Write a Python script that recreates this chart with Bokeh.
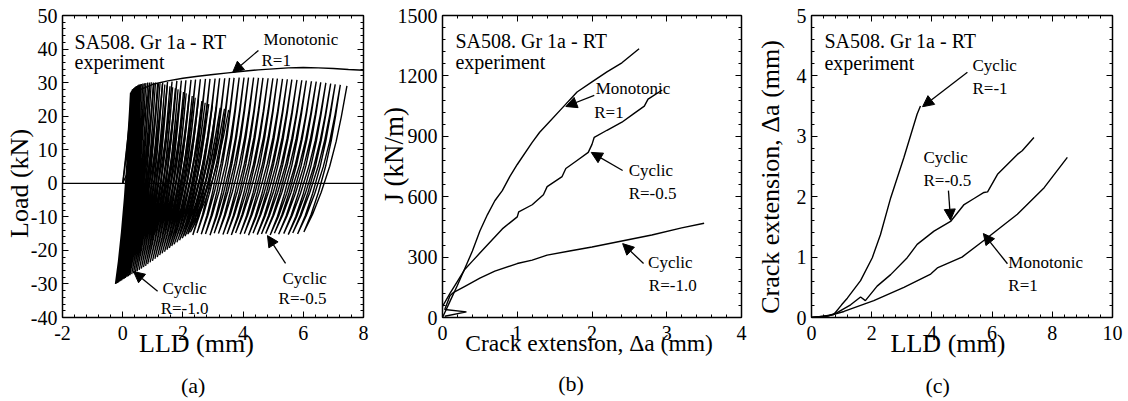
from bokeh.plotting import figure
from bokeh.layouts import row
from bokeh.models import (Range1d, LinearAxis, SingleIntervalTicker, FixedTicker, Label, Arrow,
                          NormalHead, Span, CustomJSTickFormatter)
from bokeh.embed import file_html
from bokeh.resources import INLINE

FONT = "Liberation Serif"

# ---------------- data : panel (a) Load vs LLD ----------------
mono_a_lld = [0.0, 0.15, 0.30, 0.40, 0.60, 1.0, 1.5, 2.0, 2.5, 3.0, 3.5, 4.0, 4.5, 5.0, 5.5, 6.0, 6.5, 7.0, 7.5, 8.0]
mono_a_load = [0.0, 12.0, 24.0, 26.5, 28.0, 29.5, 30.5, 31.3, 31.9, 32.4, 32.9, 33.4, 33.8, 34.1, 34.4, 34.5, 34.4, 34.2, 33.9, 33.7]

# cyclic R=-0.5 : turning points (max load / min load of every cycle)
r05_top_lld = [0.90, 1.04, 1.19, 1.33, 1.49, 1.64, 1.80, 1.95, 2.10, 2.27, 2.42, 2.58, 2.75, 2.90,
               3.07, 3.22, 3.39, 3.55, 3.70, 3.87, 4.03, 4.18, 4.35, 4.51, 4.66, 4.83, 4.99, 5.14,
               5.31, 5.47, 5.62, 5.79, 5.95, 6.10, 6.27, 6.43, 6.58, 6.75, 6.91, 7.06, 7.23, 7.45]
r05_top_load = [29.3, 29.6, 29.8, 30.0, 30.2, 30.3, 30.5, 30.6, 30.7, 30.8, 30.9, 31.0, 31.1, 31.1,
                31.2, 31.3, 31.3, 31.4, 31.4, 31.5, 31.5, 31.5, 31.5, 31.4, 31.4, 31.3, 31.3, 31.2,
                31.1, 31.0, 30.9, 30.8, 30.7, 30.6, 30.4, 30.3, 30.1, 29.9, 29.7, 29.5, 29.3, 29.0]
r05_bot_lld = [0.25, 0.38, 0.50, 0.63, 0.77, 0.91, 1.05, 1.18, 1.33, 1.47, 1.60, 1.75, 1.90, 2.04,
               2.18, 2.33, 2.47, 2.61, 2.75, 2.90, 3.04, 3.18, 3.33, 3.47, 3.61, 3.75, 3.90, 4.04,
               4.18, 4.33, 4.47, 4.61, 4.75, 4.90, 5.04, 5.18, 5.35, 5.50, 5.65, 5.81, 6.02]
r05_bot_load = [-14.8, -15.2, -15.0, -15.4, -14.9, -15.1, -15.3, -14.8, -15.2, -15.0, -15.5, -14.9,
                -15.1, -15.3, -15.0, -15.4, -14.8, -15.2, -15.1, -15.5, -14.9, -15.0, -15.3, -15.1,
                -15.4, -14.8, -15.2, -15.0, -15.5, -14.9, -15.3, -15.1, -15.0, -15.4, -14.9, -15.2,
                -15.0, -15.3, -14.8, -15.1, -14.5]

# cyclic R=-1.0 : turning points
r1_top_lld = [0.26, 0.28, 0.30, 0.32, 0.34, 0.37, 0.40, 0.43, 0.46, 0.50, 0.54, 0.58, 0.62, 0.67,
              0.72, 0.77, 0.83, 0.89, 0.95, 1.02, 1.09, 1.16, 1.24, 1.32, 1.40, 1.48, 1.57, 1.66,
              1.75, 1.84, 1.93, 2.02, 2.11, 2.21, 2.31, 2.41, 2.52, 2.63, 2.74, 2.86, 2.98, 3.11,
              3.24, 3.38, 3.52]
r1_top_load = [27.0, 27.3, 27.6, 27.9, 28.1, 28.4, 28.6, 28.8, 29.0, 29.2, 29.4, 29.5, 29.6, 29.7,
               29.8, 29.9, 30.0, 30.0, 30.1, 30.0, 30.0, 29.9, 29.8, 29.6, 29.4, 29.2, 28.9, 28.6,
               28.3, 28.0, 27.6, 27.2, 26.8, 26.4, 26.0, 25.5, 25.0, 24.5, 24.0, 23.6, 23.2, 22.8,
               22.5, 22.2, 21.9]
r1_bot_lld = [-0.24, -0.23, -0.22, -0.21, -0.20, -0.18, -0.16, -0.14, -0.12, -0.09, -0.06, -0.03,
              0.01, 0.05, 0.09, 0.14, 0.19, 0.24, 0.30, 0.36, 0.42, 0.48, 0.55, 0.62, 0.69, 0.76,
              0.83, 0.91, 0.99, 1.07, 1.15, 1.23, 1.31, 1.39, 1.47, 1.55, 1.63, 1.71, 1.80, 1.89,
              1.98, 2.07, 2.16, 2.25]
r1_bot_load = [-30.0, -29.9, -29.9, -29.8, -29.8, -29.7, -29.6, -29.5, -29.3, -29.2, -29.0, -28.9,
               -28.6, -28.4, -28.2, -27.9, -27.7, -27.4, -27.1, -26.8, -26.5, -26.2, -25.8, -25.4,
               -25.0, -24.6, -24.1, -23.6, -23.1, -22.5, -22.0, -21.4, -20.9, -20.4, -19.8, -19.3,
               -18.7, -18.2, -17.6, -17.0, -16.4, -15.8, -15.2, -14.6]

# ---------------- data : panel (b) J vs crack extension ----------------
b_mono_da = [0.0, 0.10, 0.20, 0.30, 0.40, 0.50, 0.60, 0.70, 0.80, 0.90, 1.00, 1.20, 1.30, 1.40, 1.60,
             1.80, 2.00, 2.20, 2.40, 2.63]
b_mono_j = [0, 80, 160, 245, 330, 430, 510, 580, 630, 700, 760, 870, 920, 960, 1040, 1120, 1170,
            1220, 1265, 1335]
b_r05_da = [0.0, 0.10, 0.20, 0.30, 0.40, 0.50, 0.60, 0.70, 0.80, 0.90, 1.00, 1.02, 1.20, 1.35, 1.40,
            1.60, 1.65, 1.80, 1.95, 2.00, 2.03, 2.20, 2.40, 2.55, 2.70, 2.75, 2.94]
b_r05_j = [55, 120, 180, 240, 280, 320, 360, 400, 440, 470, 500, 525, 560, 610, 650, 700, 740, 780,
           820, 860, 895, 930, 970, 1010, 1050, 1085, 1130]
b_r1_da = [0.03, 0.32, 0.03, 0.10, 0.15, 0.30, 0.50, 0.70, 1.00, 1.20, 1.40, 1.70, 2.00, 2.40, 2.80,
           3.20, 3.50]
b_r1_j = [6, 28, 40, 108, 125, 155, 195, 230, 268, 285, 310, 330, 350, 380, 410, 445, 468]

# ---------------- data : panel (c) crack extension vs LLD ----------------
c_r1_lld = [0.0, 0.40, 0.74, 1.00, 1.19, 1.63, 2.02, 2.29, 2.63, 3.07, 3.51, 3.62]
c_r1_da = [0.0, 0.02, 0.05, 0.21, 0.32, 0.61, 0.99, 1.37, 1.98, 2.65, 3.37, 3.50]
c_r05_lld = [0.0, 0.50, 0.85, 1.30, 1.63, 1.79, 2.18, 2.63, 3.18, 3.51, 4.07, 4.62, 5.07, 5.40, 5.73,
             5.85, 6.18, 6.84, 7.00, 7.39]
c_r05_da = [0.0, 0.02, 0.08, 0.21, 0.34, 0.28, 0.52, 0.71, 0.99, 1.21, 1.43, 1.59, 1.87, 1.97, 2.07,
            2.08, 2.37, 2.70, 2.76, 2.98]
c_mono_lld = [0.0, 0.60, 1.08, 2.07, 3.07, 3.96, 4.18, 5.00, 5.79, 6.84, 7.73, 8.50]
c_mono_da = [0.0, 0.03, 0.10, 0.28, 0.50, 0.72, 0.82, 1.00, 1.30, 1.71, 2.15, 2.65]

# loop branch shape (style): normalised position along a branch from min-load to max-load point
BRANCH_U = [0.0, 0.2, 0.4, 0.6, 0.75, 0.87, 0.95, 1.0]
BRANCH_V = [0.0, 0.12, 0.27, 0.45, 0.62, 0.79, 0.92, 1.0]


def cycle_path(tops_x, tops_y, bots_x, bots_y):
    xs, ys = [0.0], [0.0]
    bx, by = 0.0, 0.0
    for k in range(len(tops_x)):
        tx, ty = tops_x[k], tops_y[k]
        for u, v in zip(BRANCH_U[1:], BRANCH_V[1:]):
            xs.append(bx + u * (tx - bx))
            ys.append(by + v * (ty - by))
        if k < len(bots_x):
            nbx, nby = bots_x[k], bots_y[k]
            for u, v in zip(BRANCH_U[-2::-1], BRANCH_V[-2::-1]):
                xs.append(nbx + u * (tx - nbx))
                ys.append(nby + v * (ty - nby))
            bx, by = nbx, nby
    return xs, ys


def label_axis(p, side, pos, txt, size, standoff):
    # an axis without line/ticks whose single label carries the axis title
    ax = LinearAxis(ticker=FixedTicker(ticks=[pos], minor_ticks=[]),
                    formatter=CustomJSTickFormatter(code="return %r" % txt))
    ax.axis_line_color = None
    ax.major_tick_line_color = None
    ax.minor_tick_line_color = None
    ax.major_tick_in = 0
    ax.major_tick_out = 0
    ax.minor_tick_in = 0
    ax.minor_tick_out = 0
    ax.major_label_text_font = FONT
    ax.major_label_text_font_size = size
    ax.major_label_text_font_style = "normal"
    ax.major_label_text_color = "black"
    ax.major_label_standoff = standoff
    if side == "left":
        ax.major_label_orientation = "vertical"
    p.add_layout(ax, side)


def make_fig(xr, yr, xint, yint, left, right):
    p = figure(width=376, height=401, x_range=Range1d(*xr), y_range=Range1d(*yr),
               output_backend="svg", toolbar_location=None, x_axis_type=None, y_axis_type=None,
               min_border_left=left, min_border_right=right, min_border_top=15,
               min_border_bottom=84)
    p.outline_line_color = None
    p.background_fill_color = "white"
    p.border_fill_color = "white"
    for side, interval in (("below", xint), ("left", yint), ("above", xint), ("right", yint)):
        ax = LinearAxis(ticker=SingleIntervalTicker(interval=interval, num_minor_ticks=5))
        ax.axis_line_color = "black"
        ax.axis_line_width = 1.5
        ax.major_tick_in = 6
        ax.major_tick_out = 0
        ax.minor_tick_in = 3
        ax.minor_tick_out = 0
        ax.major_tick_line_color = "black"
        ax.minor_tick_line_color = "black"
        ax.major_tick_line_width = 1
        ax.minor_tick_line_width = 1
        ax.major_label_text_font = FONT
        ax.major_label_text_font_size = "20px"
        ax.major_label_text_color = "black"
        if side in ("above", "right"):
            ax.formatter = CustomJSTickFormatter(code="return ''")
            ax.major_label_standoff = 0
        else:
            ax.formatter = CustomJSTickFormatter(code="return tick.toString()")
            ax.major_label_standoff = 8 if side == "below" else 5
        p.add_layout(ax, side)
    return p


def text(p, x, y, s, size="17px"):
    p.add_layout(Label(x=x, y=y, text=s, text_font=FONT, text_font_size=size, text_color="black",
                       text_align="left", text_baseline="alphabetic"))


def arrow(p, x0, y0, x1, y1):
    p.add_layout(Arrow(x_start=x0, y_start=y0, x_end=x1, y_end=y1, line_width=1.3,
                       line_color="black",
                       end=NormalHead(size=11, fill_color="black", line_color="black")))


LW = 1.4

# ---------------- panel (a) ----------------
pa = make_fig((-2, 8), (-40, 50), 2, 10, 62, 13)
pa.add_layout(Span(location=0, dimension="width", line_color="black", line_width=1.2))
x05, y05 = cycle_path(r05_top_lld, r05_top_load, r05_bot_lld, r05_bot_load)
x1, y1 = cycle_path(r1_top_lld, r1_top_load, r1_bot_lld, r1_bot_load)
pa.line(x05, y05, line_color="black", line_width=1.4)
pa.line(x1, y1, line_color="black", line_width=1.3)
pa.line(mono_a_lld, mono_a_load, line_color="black", line_width=LW)
text(pa, -1.60, 42.2, "SA508. Gr 1a - RT", size="20px")
text(pa, -1.60, 36.0, "experiment", size="20px")
text(pa, 4.68, 42.8, "Monotonic")
text(pa, 4.61, 36.6, "R=1")
arrow(pa, 4.51, 39.6, 3.65, 33.0)
text(pa, 5.31, -28.4, "Cyclic")
text(pa, 5.18, -34.3, "R=-0.5")
arrow(pa, 5.41, -23.9, 4.81, -15.6)
text(pa, 1.32, -31.3, "Cyclic")
text(pa, 1.26, -37.3, "R=-1.0")
arrow(pa, 1.16, -32.2, 0.36, -26.3)
label_axis(pa, "below", 2.45, "LLD (mm)", "26px", -14)
label_axis(pa, "below", 2.34, "(a)", "22px", 12)
label_axis(pa, "left", -0.06, "Load (kN)", "26px", -7)

# ---------------- panel (b) ----------------
pb = make_fig((0, 4), (0, 1500), 1, 300, 65, 11)
pb.line(b_mono_da, b_mono_j, line_color="black", line_width=LW)
pb.line(b_r05_da, b_r05_j, line_color="black", line_width=LW)
pb.line(b_r1_da, b_r1_j, line_color="black", line_width=LW)
text(pb, 0.173, 1371, "SA508. Gr 1a - RT", size="20px")
text(pb, 0.173, 1267, "experiment", size="20px")
text(pb, 2.05, 1137, "Monotonic")
text(pb, 2.03, 1018, "R=1")
arrow(pb, 2.03, 1103, 1.65, 1048)
text(pb, 2.49, 730, "Cyclic")
text(pb, 2.49, 616, "R=-0.5")
arrow(pb, 2.41, 730, 1.99, 820)
text(pb, 2.75, 273, "Cyclic")
text(pb, 2.76, 159, "R=-1.0")
arrow(pb, 2.69, 268, 2.41, 367)
label_axis(pb, "below", 2.0, "Crack extension,  \u0394a (mm)", "23.5px", -13)
label_axis(pb, "below", 1.72, "(b)", "22px", 12)
label_axis(pb, "left", 805, "J (kN/m)", "27px", -15)

# ---------------- panel (c) ----------------
pc = make_fig((0, 10), (0, 5), 2, 1, 59, 16)
pc.line(c_r1_lld, c_r1_da, line_color="black", line_width=LW)
pc.line(c_r05_lld, c_r05_da, line_color="black", line_width=LW)
pc.line(c_mono_lld, c_mono_da, line_color="black", line_width=LW)
text(pc, 0.43, 4.57, "SA508. Gr 1a - RT", size="20px")
text(pc, 0.43, 4.22, "experiment", size="20px")
text(pc, 5.35, 4.17, "Cyclic")
text(pc, 5.35, 3.79, "R=-1")
arrow(pc, 5.18, 4.06, 3.69, 3.49)
text(pc, 3.72, 2.65, "Cyclic")
text(pc, 3.72, 2.27, "R=-0.5")
arrow(pc, 4.55, 2.10, 4.62, 1.61)
text(pc, 6.54, 0.91, "Monotonic")
text(pc, 6.54, 0.53, "R=1")
arrow(pc, 6.51, 0.89, 5.71, 1.39)
label_axis(pc, "below", 4.535, "LLD (mm)", "26px", -14)
label_axis(pc, "below", 4.19, "(c)", "22px", 12)
label_axis(pc, "left", 2.38, "Crack extension,  \u0394a (mm)", "26px", 8)

layout = row(pa, pb, pc, spacing=0)
open("out.html", "w").write(file_html(layout, INLINE))
